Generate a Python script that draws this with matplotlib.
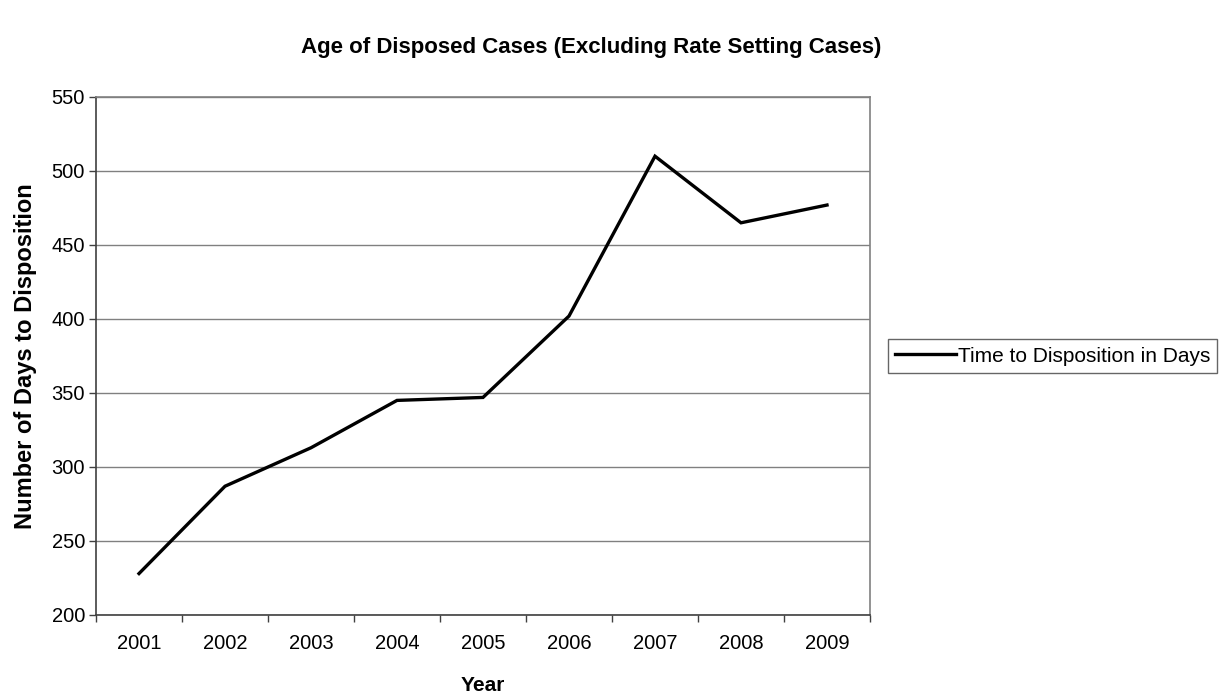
import matplotlib.pyplot as plt
import numpy as np

plt.rcParams['font.family'] = ['Liberation Sans', 'DejaVu Sans']

years = ["2001", "2002", "2003", "2004", "2005", "2006", "2007", "2008", "2009"]
days = [228, 287, 313, 345, 347, 402, 510, 465, 477]

fig = plt.figure(figsize=(12.25, 7), dpi=100)
ax = fig.add_axes([96 / 1225, 85 / 700, 774 / 1225, 518 / 700])

x = np.arange(len(years))
ax.plot(x, days, color='black', lw=2.4, solid_joinstyle='miter',
        label="Time to Disposition in Days")

ax.set_xlim(-0.5, len(years) - 0.5)
ax.set_ylim(200, 550)
ax.set_yticks(np.arange(200, 551, 50))

# ticks sit between categories, labels centred on them
ax.set_xticks(np.arange(-0.5, len(years), 1.0))
ax.set_xticklabels([])
ax.set_xticks(x, minor=True)
ax.set_xticklabels(years, minor=True)
ax.tick_params(axis='x', which='minor', length=0, pad=14, labelsize=14.5)
ax.tick_params(axis='x', which='major', length=5, width=1, color='#404040')
ax.tick_params(axis='y', length=5, width=1, color='#404040', labelsize=14.5, pad=3)

ax.grid(axis='y', color='#808080', lw=1)
ax.set_axisbelow(True)
for side in ['top', 'right']:
    ax.spines[side].set_color('#808080')
    ax.spines[side].set_linewidth(1.2)
for side in ['left', 'bottom']:
    ax.spines[side].set_color('#404040')
    ax.spines[side].set_linewidth(1.2)

ax.set_xlabel("Year", fontsize=15, fontweight='bold', labelpad=16)
ax.set_ylabel("Number of Days to Disposition", fontsize=17, fontweight='bold', labelpad=10)
fig.text(591 / 1225, 1 - 48 / 700, "Age of Disposed Cases (Excluding Rate Setting Cases)",
         fontsize=16, fontweight='bold', ha='center', va='center')

leg = ax.legend(loc='center left', bbox_to_anchor=(888 / 1225, (700 - 356) / 700),
                bbox_transform=fig.transFigure, fontsize=15, frameon=True, fancybox=False,
                handlelength=2.9, handletextpad=0.1, borderpad=0.35, borderaxespad=0)
leg.get_frame().set_edgecolor('#404040')
leg.get_frame().set_linewidth(1)

fig.savefig("out.png", dpi=100, facecolor='white')
